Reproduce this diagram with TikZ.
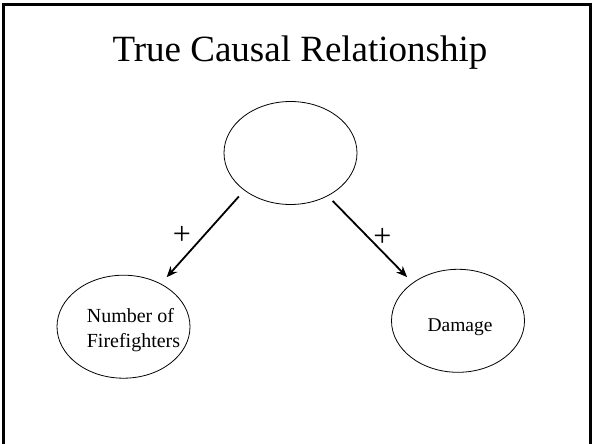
\documentclass[tikz,border=0pt]{standalone}
\usepackage{fontspec}
\setmainfont{Liberation Serif}
\usetikzlibrary{arrows.meta,shapes.geometric}
\begin{document}
\begin{tikzpicture}[x=1pt,y=-1pt,
  oval/.style={draw=black,line width=0.8pt,ellipse,minimum width=133pt,minimum height=103pt,inner sep=0pt},
  lbl/.style={inner sep=0pt,align=left,font=\fontsize{20}{25}\selectfont},
  causal/.style={-{Stealth[length=11pt,width=9pt]},line width=1.8pt},
  sign/.style={inner sep=0pt,font=\fontsize{32}{32}\selectfont}]
\useasboundingbox (0,0) rectangle (592,444);
\draw[line width=3pt] (3.5,446) -- (3.5,4.5) -- (590.5,4.5) -- (590.5,446);
\node[anchor=base,inner sep=0pt,font=\fontsize{37}{37}\selectfont] (title) at (300,61.7) {True Causal Relationship};
\node[oval] (cause) at (290.5,153) {};
\node[oval,label={[lbl,xshift=10pt,yshift=-3.5pt]center:{Number of\\Firefighters}}] (ff) at (123.5,326.7) {};
\node[oval,label={[lbl,font=\fontsize{19.5}{25}\selectfont,xshift=2pt,yshift=-6.4pt]center:Damage}] (dmg) at (458,320.8) {};
\draw[causal,shorten <=8pt,shorten >=8.6pt] (cause.219.7) -- (ff.49.06);
\draw[causal,shorten <=6.8pt,shorten >=7.8pt] (cause.311.9) -- (dmg.140.47);
\node[sign] (p1) at (182,235.5) {+};
\node[sign] (p2) at (382.4,237.3) {+};
\end{tikzpicture}
\end{document}
